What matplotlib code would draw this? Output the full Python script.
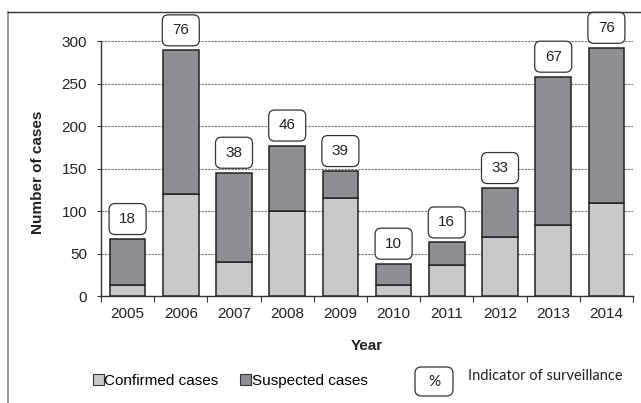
import numpy as np
import matplotlib
matplotlib.use("Agg")
import matplotlib.pyplot as plt
from matplotlib.patches import FancyBboxPatch, Patch
from matplotlib.lines import Line2D
from matplotlib.transforms import ScaledTranslation

# ================================
# Data
# ================================
years = ["2005", "2006", "2007", "2008", "2009",
         "2010", "2011", "2012", "2013", "2014"]
confirmed = [13, 120, 40, 100, 115, 13, 37, 70, 84, 110]
suspected = [54, 169, 105, 77, 32, 25, 26, 57, 174, 182]
surveillance = [18, 76, 38, 46, 39, 10, 16, 33, 67, 76]

yticks = [0, 50, 100, 150, 200, 250, 300]

plt.rcParams['font.family'] = ['Liberation Sans', 'DejaVu Sans']

W, H = 641, 403
fig = plt.figure(figsize=(W / 100, H / 100), dpi=100)

# helper: pixel position (from top-left) -> figure fraction
def px(x, y):
    return x / W, 1 - y / H

ax = fig.add_axes([101 / W, 1 - 296 / H, (633 - 101) / W, (296 - 41) / H])

light = "#c8c9cb"
dark = "#8e8f92"
edge = "#222222"

x = np.arange(len(years))
ax.bar(x, confirmed, width=0.67, color=light, edgecolor=edge, linewidth=1.1, zorder=3)
ax.bar(x, suspected, width=0.67, bottom=confirmed, color=dark,
       edgecolor=edge, linewidth=1.1, zorder=3)

# rounded boxes with the indicator of surveillance
totals = np.array(confirmed) + np.array(suspected)
for xi, tot, val in zip(x, totals, surveillance):
    trans = fig.dpi_scale_trans + ScaledTranslation(xi, tot, ax.transData)
    box = FancyBboxPatch((-0.185, 0.045), 0.37, 0.31,
                         boxstyle="round,pad=0,rounding_size=0.06",
                         facecolor="white", edgecolor="#333333", linewidth=0.9,
                         transform=trans, clip_on=False, zorder=4)
    ax.add_patch(box)
    ax.annotate(str(val), (xi, tot), xytext=(0, 14.5), textcoords="offset points",
                ha="center", va="center", fontsize=11, color="#222222",
                annotation_clip=False, zorder=5)

ax.set_xlim(-0.5, len(years) - 0.5)
ax.set_ylim(0, 300)
ax.set_yticks(yticks)
ax.yaxis.grid(True, color="#777777", linestyle=(0, (2, 1)), linewidth=0.8, zorder=0)
ax.set_axisbelow(True)

# ticks between categories, labels at centres
ax.set_xticks(np.arange(-0.5, len(years)), labels=[])
ax.set_xticks(x, labels=years, minor=True)
ax.tick_params(axis="x", which="major", length=4, direction="out", color="#333333")
ax.tick_params(axis="x", which="minor", length=0, pad=8, labelsize=11, labelcolor="#222222")
ax.tick_params(axis="y", length=3, direction="out", pad=7, labelsize=11,
               labelcolor="#222222", color="#333333")

for s in ["top", "right"]:
    ax.spines[s].set_visible(False)
for s in ["left", "bottom"]:
    ax.spines[s].set_color("#333333")
    ax.spines[s].set_linewidth(1)

fig.text(*px(38.5, 172), "Number of cases", rotation=90, ha="center", va="center",
         fontsize=11, fontweight="bold", color="#222222")
fig.text(*px(367, 346), "Year", ha="center", va="center",
         fontsize=11, fontweight="bold", color="#222222")

# legend
handles = [Patch(facecolor=light, edgecolor="#333333", linewidth=0.8),
           Patch(facecolor=dark, edgecolor="#333333", linewidth=0.8)]
fig.legend(handles, ["Confirmed cases", "Suspected cases"], ncol=2,
           loc="center left", bbox_to_anchor=px(93, 381), frameon=False,
           fontsize=11, handlelength=0.7, handleheight=0.7, handletextpad=0.05,
           columnspacing=1.4, borderpad=0, borderaxespad=0)

# "%" box + its explanation
pbox = FancyBboxPatch(px(415, 396), 38 / W, 29 / H,
                      boxstyle="round,pad=0,rounding_size=0.01",
                      facecolor="white", edgecolor="#333333", linewidth=0.9,
                      transform=fig.transFigure, mutation_aspect=W / H)
fig.add_artist(pbox)
fig.text(*px(434, 382), "%", ha="center", va="center", fontsize=11,
         family=["Lato", "DejaVu Sans"], color="#222222")
fig.text(*px(468, 376), "Indicator of surveillance", ha="left", va="center",
         fontsize=10.5, family=["Lato", "DejaVu Sans"], color="#222222")

# outer frame (left and top edges only)
fig.add_artist(Line2D([8 / W, 8 / W], [0, 1 - 12 / H], transform=fig.transFigure,
                      color="#888888", linewidth=1.2))
fig.add_artist(Line2D([8 / W, 1], [1 - 12 / H, 1 - 12 / H], transform=fig.transFigure,
                      color="#333333", linewidth=1.0))

fig.savefig("out.png", dpi=100)
